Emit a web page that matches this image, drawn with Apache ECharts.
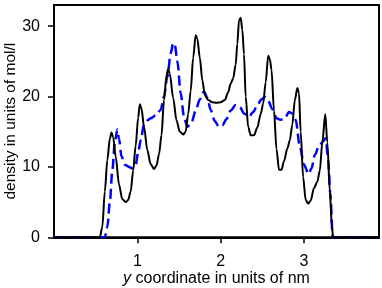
<!DOCTYPE html>
<html>
<head>
<meta charset="utf-8">
<script src="https://cdn.jsdelivr.net/npm/echarts@6/dist/echarts.min.js"></script>
<style>html,body{margin:0;padding:0;background:#fff;}#c{width:382px;height:288px;}</style>
</head>
<body>
<div id="c"></div>
<script>
// black solid curve
const blackX = [0,0.55,0.58,0.61,0.64,0.67,0.69,0.71,0.74,0.78,0.82,0.86,0.89,0.92,0.95,0.98,1.01,1.03,1.05,1.08,1.12,1.16,1.20,1.23,1.26,1.29,1.32,1.35,1.37,1.39,1.43,1.47,1.51,1.55,1.58,1.61,1.64,1.67,1.70,1.72,1.75,1.78,1.81,1.85,1.90,1.95,2.00,2.05,2.09,2.12,2.15,2.18,2.20,2.22,2.24,2.26,2.28,2.30,2.33,2.36,2.40,2.44,2.48,2.51,2.54,2.57,2.59,2.61,2.64,2.67,2.70,2.73,2.76,2.80,2.83,2.86,2.89,2.92,2.94,2.96,2.99,3.02,3.05,3.08,3.12,3.16,3.19,3.22,3.255,3.28,3.31,3.335,3.35,3.9];
const blackY = [0,0,1.5,6.5,11,14,14.9,14.2,11.5,7.5,5.4,5.0,5.3,6.5,9.5,13,17,18.9,18.3,15.7,12.4,10.4,9.7,10.2,11.8,14.5,19.5,23,23.9,23.2,19.8,16.6,15,14.6,15,17.5,20.8,25.5,28.7,28.2,25.5,22.3,20.2,19.5,19.2,19.1,19.2,19.5,20.6,21.8,22.6,24.5,27.5,30.8,31.2,29.5,26,20,15.7,14.5,14.5,15.6,17.5,19,22,25.8,25.3,23.8,18,12.5,9.6,9.6,10.8,12.6,13.8,16,19.5,21.2,20.5,15,8.5,5.3,4.8,5.2,7.0,7.9,9.5,13.5,17.5,13.5,6.5,1.5,0,0];
// blue dashed curve
const blueX = [0,0.61,0.64,0.67,0.70,0.73,0.76,0.78,0.81,0.85,0.90,0.94,0.98,1.01,1.04,1.08,1.12,1.16,1.22,1.28,1.32,1.36,1.40,1.43,1.45,1.48,1.52,1.56,1.60,1.65,1.70,1.75,1.80,1.84,1.88,1.93,1.98,2.02,2.07,2.12,2.18,2.23,2.28,2.34,2.39,2.44,2.49,2.53,2.57,2.62,2.67,2.72,2.77,2.82,2.86,2.90,2.95,3.00,3.055,3.09,3.13,3.18,3.23,3.26,3.29,3.315,3.345,3.9];
const blueY = [0,0,1.5,5,9.5,13.5,15.3,14,11.5,10.3,10,9.8,10.3,12,13.8,16,16.6,16.9,17.3,18.1,20,22.8,26.1,27.6,27.3,25,20.5,17.1,15.7,16.3,18.0,19.6,20.7,19.8,18.1,16.5,15.7,15.9,16.8,18.0,18.8,18.5,17.6,17.1,17.8,18.8,19.6,19.9,19.4,18.2,16.9,16.7,16.9,17.8,17.6,16.7,12.9,10.3,9.0,9.8,11.7,13,13.6,14.1,11,6.3,0,0];
const xTicks = [1,2,3];
const yTicks = [0,10,20,30];

const toPairs = (xs, ys) => xs.map((x, i) => [x, ys[i]]);
const FONT = 'Liberation Sans, Arial, sans-serif';
const chart = echarts.init(document.getElementById('c'), null, {renderer: 'canvas'});
chart.setOption({
  animation: false,
  backgroundColor: '#fff',
  grid: {left: 54, top: 5, right: 3, bottom: 50.7, outerBoundsMode: 'none', containLabel: false,
         show: true, borderColor: '#000', borderWidth: 2, backgroundColor: 'transparent'},
  xAxis: {
    type: 'value', min: 0, max: 3.9,
    name: '{i|y} coordinate in units of nm',
    nameLocation: 'middle', nameGap: 33, nameMoveOverlap: false,
    nameTextStyle: {fontSize: 16, fontFamily: FONT, color: '#000',
      rich: {i: {fontStyle: 'italic', fontSize: 16, fontFamily: FONT, color: '#000'}}},
    axisLine: {show: true, lineStyle: {color: '#000', width: 2}},
    axisTick: {show: true, length: 6, lineStyle: {color: '#000', width: 1.5}, customValues: xTicks},
    axisLabel: {fontSize: 16, fontFamily: FONT, color: '#000', margin: 16, customValues: xTicks},
    splitLine: {show: false}
  },
  yAxis: {
    type: 'value', min: 0, max: 33,
    name: 'density in units of mol/l',
    nameLocation: 'middle', nameGap: 35, nameMoveOverlap: false,
    nameTextStyle: {fontSize: 15.5, fontFamily: FONT, color: '#000'},
    axisLine: {show: true, lineStyle: {color: '#000', width: 2}},
    axisTick: {show: true, length: 6, lineStyle: {color: '#000', width: 1.5}, customValues: yTicks},
    axisLabel: {fontSize: 16, fontFamily: FONT, color: '#000', margin: 14, customValues: yTicks},
    splitLine: {show: false}
  },
  series: [
    {type: 'line', data: toPairs(blueX, blueY), showSymbol: false, smooth: 0.3, smoothMonotone: 'x', z: 3,
     lineStyle: {color: '#0000ff', width: 2.5, type: [10, 5]}},
    {type: 'line', data: toPairs(blackX, blackY), showSymbol: false, smooth: 0.3, smoothMonotone: 'x', z: 4,
     lineStyle: {color: '#000', width: 2}}
  ]
});
</script>
</body>
</html>
